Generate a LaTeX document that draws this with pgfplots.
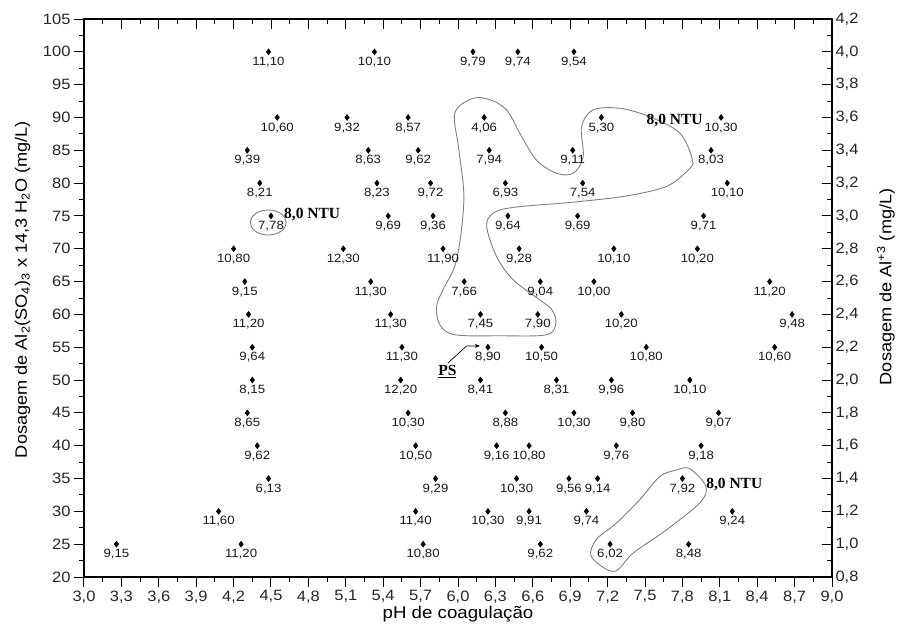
\documentclass[border=0pt]{standalone}
\usepackage{fontspec}
\setmainfont[FakeStretch=1.1]{Liberation Sans}
\newfontfamily\timesfont{Liberation Serif}
\usepackage{pgfplots}
\pgfplotsset{compat=1.18}
\usepackage{pgfplotstable}
\usetikzlibrary{arrows.meta}

\pgfplotstableread{
x y lab
4.48 100 11,10
5.33 100 10,10
6.12 100 9,79
6.48 100 9,74
6.93 100 9,54
4.55 90 10,60
5.11 90 9,32
5.60 90 8,57
6.21 90 4,06
7.15 90 5,30
8.11 90 10,30
4.31 85 9,39
5.28 85 8,63
5.68 85 9,62
6.25 85 7,94
6.92 85 9,11
8.03 85 8,03
4.41 80 8,21
5.35 80 8,23
5.78 80 9,72
6.38 80 6,93
7.00 80 7,54
8.16 80 10,10
4.50 75 7,78
5.44 75 9,69
5.80 75 9,36
6.40 75 9,64
6.96 75 9,69
7.97 75 9,71
4.20 70 10,80
5.08 70 12,30
5.88 70 11,90
6.49 70 9,28
7.25 70 10,10
7.92 70 10,20
4.29 65 9,15
5.30 65 11,30
6.05 65 7,66
6.66 65 9,04
7.09 65 10,00
8.50 65 11,20
4.32 60 11,20
5.46 60 11,30
6.18 60 7,45
6.64 60 7,90
7.31 60 10,20
8.68 60 9,48
4.35 55 9,64
5.55 55 11,30
6.24 55 8,90
6.67 55 10,50
7.51 55 10,80
8.54 55 10,60
4.35 50 8,15
5.54 50 12,20
6.18 50 8,41
6.79 50 8,31
7.23 50 9,96
7.86 50 10,10
4.31 45 8,65
5.60 45 10,30
6.38 45 8,88
6.93 45 10,30
7.40 45 9,80
8.09 45 9,07
4.39 40 9,62
5.66 40 10,50
6.31 40 9,16
6.57 40 10,80
7.27 40 9,76
7.95 40 9,18
4.48 35 6,13
5.82 35 9,29
6.47 35 10,30
6.89 35 9,56
7.12 35 9,14
7.80 35 7,92
4.08 30 11,60
5.66 30 11,40
6.24 30 10,30
6.57 30 9,91
7.03 30 9,74
8.20 30 9,24
3.26 25 9,15
4.26 25 11,20
5.72 25 10,80
6.66 25 9,62
7.22 25 6,02
7.85 25 8,48
}\pts

\begin{document}
\begin{tikzpicture}
\pgfplotsset{
  commonax/.style={
    scale only axis, width=748pt, height=558pt,
    xmin=3, xmax=9,
    xtick={3.0,3.3,3.6,3.9,4.2,4.5,4.8,5.1,5.4,5.7,6.0,6.3,6.6,6.9,7.2,7.5,7.8,8.1,8.4,8.7,9.0},
    minor x tick num=1, minor y tick num=1,
    major tick length=10pt, minor tick length=5pt,
    every tick/.style={black, line width=1pt},
    axis line style={line width=1.2pt},
    ticklabel style={font=\fontsize{15}{17}\selectfont, text=black!85},
    xticklabel style={/pgf/number format/.cd, fixed, fixed zerofill, precision=1, use comma, assume math mode=true},
  }
}
\begin{axis}[commonax,
  ymin=20, ymax=105, ytick={20,25,...,105},
  tick align=outside, xtick pos=bottom, ytick pos=left,
  yticklabel style={/pgf/number format/.cd, fixed, precision=0, assume math mode=true},
  xlabel={pH de coagulação},
  xlabel style={font=\fontsize{17}{20}\selectfont, at={(axis description cs:0.5,-0.066)}, anchor=center},
  ylabel={Dosagem de Al\textsubscript{2}(SO\textsubscript{4})\textsubscript{3} x 14,3 H\textsubscript{2}O (mg/L)},
  ylabel style={font=\fontsize{16.5}{19}\selectfont, at={(axis description cs:-0.082,0.515)}, anchor=center},
]
\addplot[only marks, mark=diamond*, mark size=3pt, black,
  nodes near coords, point meta=explicit symbolic,
  nodes near coords align=below,
  every node near coord/.append style={font=\fontsize{12}{14}\selectfont, inner sep=0pt, yshift=-5pt, text=black!90}]
  table[x=x, y=y, meta=lab]{\pts};

% 8,0 NTU contours
\draw[gray, line width=0.9pt] plot[smooth cycle, tension=0.55] coordinates {
 (axis cs:6.12,92.9) (axis cs:5.975,90.7) (axis cs:6.007,85.06) (axis cs:6.047,77.45)
 (axis cs:5.989,68.3) (axis cs:5.879,63.74) (axis cs:5.828,61.2) (axis cs:5.855,58.4)
 (axis cs:5.975,56.9) (axis cs:6.336,56.75) (axis cs:6.71,56.9) (axis cs:6.785,58.67)
 (axis cs:6.753,60.7) (axis cs:6.657,62.2) (axis cs:6.443,65.27) (axis cs:6.31,68.8)
 (axis cs:6.23,73.4) (axis cs:6.282,75.4) (axis cs:6.443,76.3) (axis cs:6.924,77.1)
 (axis cs:7.352,78.05) (axis cs:7.673,79.5) (axis cs:7.846,82.0) (axis cs:7.881,83.5)
 (axis cs:7.78,87.6) (axis cs:7.539,90.1) (axis cs:7.298,91.4) (axis cs:7.084,91.15)
 (axis cs:6.991,88.6) (axis cs:7.004,84.0) (axis cs:6.924,81.5) (axis cs:6.791,81.5)
 (axis cs:6.63,83.5) (axis cs:6.496,87.6) (axis cs:6.39,91.15) (axis cs:6.256,92.7)};
\draw[gray, line width=0.9pt] (axis cs:4.478,74.0) ellipse [x radius=18pt, y radius=12.5pt];
\draw[gray, line width=0.9pt] plot[smooth cycle, tension=0.55] coordinates {
 (axis cs:7.86,36.5) (axis cs:7.988,33.8) (axis cs:7.94,31.3) (axis cs:7.673,27.2)
 (axis cs:7.405,23.65) (axis cs:7.25,20.85) (axis cs:7.07,23.1) (axis cs:7.11,25.7)
 (axis cs:7.27,28.2) (axis cs:7.459,31.8) (axis cs:7.619,35.3) (axis cs:7.753,36.3)};
\node[font=\timesfont\bfseries\fontsize{15.5}{17}\selectfont, anchor=base west, inner sep=0pt] at (axis cs:7.512,89.0) {8,0 NTU};
\node[font=\timesfont\bfseries\fontsize{15.5}{17}\selectfont, anchor=base west, inner sep=0pt] at (axis cs:4.604,74.66) {8,0 NTU};
\node[font=\timesfont\bfseries\fontsize{15.5}{17}\selectfont, anchor=base west, inner sep=0pt] at (axis cs:7.99,33.55) {8,0 NTU};
\node[font=\timesfont\bfseries\fontsize{15.5}{17}\selectfont, anchor=base west, inner sep=0pt] at (axis cs:5.841,50.65) {\underline{PS}};
\draw[black, line width=0.7pt, -{Stealth[length=5pt,width=4pt]}] (axis cs:5.92,52.6) -- (axis cs:6.069,55.2) -- (axis cs:6.176,55.2);
\end{axis}

\begin{axis}[commonax,
  ymin=0.8, ymax=4.2,
  ytick={0.8,1.0,1.2,1.4,1.6,1.8,2.0,2.2,2.4,2.6,2.8,3.0,3.2,3.4,3.6,3.8,4.0,4.2},
  tick align=inside, xtick pos=top, ytick pos=right, yticklabel pos=right,
  xticklabels={},
  yticklabel style={/pgf/number format/.cd, fixed, fixed zerofill, precision=1, use comma, assume math mode=true},
  ylabel={Dosagem de Al\textsuperscript{+3} (mg/L)},
  ylabel style={font=\fontsize{16.5}{19}\selectfont, at={(axis description cs:1.072,0.52)}, anchor=center},
]
\end{axis}
\pgfresetboundingbox
\path[use as bounding box] (-84pt,-56pt) rectangle (813pt,577pt);
\end{tikzpicture}
\end{document}
